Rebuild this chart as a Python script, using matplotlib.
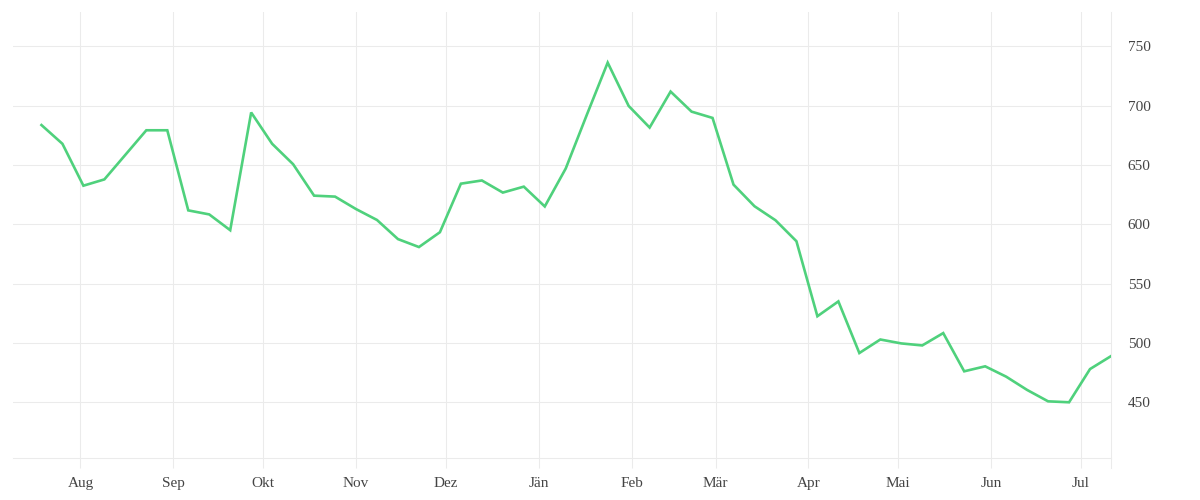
import matplotlib
matplotlib.use("Agg")
import matplotlib.pyplot as plt
import pandas as pd

# weekly values, Jul 2022 - Jul 2023
start_date = "2022-07-19"
values = [683.6, 667.8, 632.5, 637.8, 658.5, 679.2, 679.2, 611.7, 608.3, 595.0,
          694.2, 667.8, 650.6, 624.1, 623.3, 612.8, 603.6, 587.5, 580.8, 593.3,
          634.2, 636.9, 626.7, 631.7, 615.0, 647.0, 692.0, 736.2, 699.7, 681.5,
          711.8, 694.9, 689.6, 633.4, 615.2, 603.4, 585.7, 522.5, 535.0, 491.5,
          502.9, 499.6, 497.9, 508.3, 476.1, 480.3, 471.6, 460.4, 450.8, 450.0,
          478.0, 488.9]
month_labels = ["Aug", "Sep", "Okt", "Nov", "Dez", "Jän", "Feb", "Mär",
                "Apr", "Mai", "Jun", "Jul"]
y_ticks = [450, 500, 550, 600, 650, 700, 750]

dates = pd.date_range(start_date, periods=len(values), freq="7D")
month_starts = pd.date_range("2022-08-01", periods=len(month_labels), freq="MS")

grid_col = "#ebebeb"
text_col = "#444444"
plt.rcParams["font.family"] = ["Liberation Serif", "DejaVu Serif"]

fig = plt.figure(figsize=(12, 5), dpi=100)
ax = fig.add_axes([13 / 1200, 1 - 458.3 / 500, (1111 - 13) / 1200, (458.3 - 12.3) / 500])

ax.plot(dates, values, color="#4fd17c", linewidth=1.9, solid_joinstyle="miter", zorder=3)

ax.set_xlim(pd.Timestamp("2022-07-09 12:00"), pd.Timestamp("2023-07-11"))
ax.set_ylim(402.8, 778.6)

ax.set_xticks(month_starts)
ax.set_xticklabels(month_labels)
ax.set_yticks(y_ticks)
ax.yaxis.tick_right()

ax.grid(True, color=grid_col, linewidth=0.75)
ax.set_axisbelow(True)
for side in ["top", "left", "right"]:
    ax.spines[side].set_visible(False)
ax.spines["bottom"].set_color(grid_col)
ax.spines["bottom"].set_linewidth(0.75)
# right boundary line, runs down like the x ticks
ax.plot([1, 1], [-10 / 446, 1], transform=ax.transAxes, color=grid_col,
        linewidth=0.75, clip_on=False, zorder=1)

ax.tick_params(axis="x", length=7.2, width=0.75, color=grid_col, pad=6.5,
               labelsize=11, labelcolor=text_col)
ax.tick_params(axis="y", length=0, pad=12, labelsize=11, labelcolor=text_col)

fig.savefig("out.png", dpi=100)
